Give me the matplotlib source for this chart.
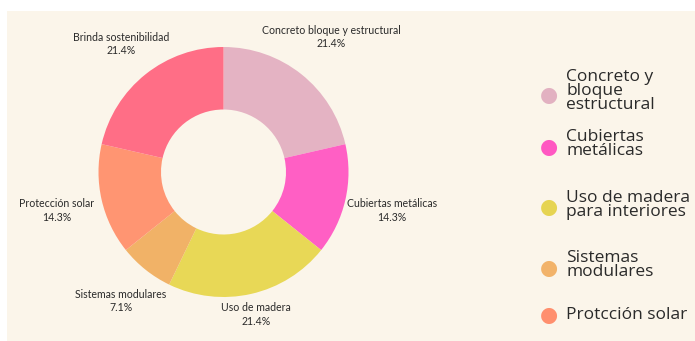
import numpy as np
import matplotlib.pyplot as plt
from matplotlib.patches import Rectangle

# datos del anillo
labels = ["Concreto bloque y estructural", "Cubiertas metálicas", "Uso de madera",
          "Sistemas modulares", "Protección solar", "Brinda sostenibilidad"]
values = [21.4, 14.3, 21.4, 7.1, 14.3, 21.4]
colors = ["#E4B3C3", "#FF5FC4", "#E8D856", "#F1B267", "#FF9572", "#FF6E86"]

# leyenda (sin "Brinda sostenibilidad")
legend_labels = ["Concreto y\nbloque\nestructural", "Cubiertas\nmetálicas",
                 "Uso de madera\npara interiores", "Sistemas\nmodulares", "Protcción solar"]
legend_colors = ["#E2B1C1", "#FF58C2", "#E6D452", "#F2B36A", "#FF8F6E"]

W, H = 695, 341
bg = "#FBF5EA"
txt = "#2A2A2A"

fig = plt.figure(figsize=(W / 100, H / 100), dpi=100)
fig.patch.set_facecolor("white")
fig.patches.append(Rectangle((7 / W, 0), 1 - 7 / W, (H - 11) / H, transform=fig.transFigure,
                             facecolor=bg, edgecolor="none", zorder=-5))

cx, cy, r = 223.5, H - 172, 125
ax = fig.add_axes([(cx - r) / W, (cy - r) / H, 2 * r / W, 2 * r / H])
ax.set_zorder(2)
ax.axis("off")

wedges, _ = ax.pie(values, colors=colors, startangle=90, counterclock=False, radius=1,
                   wedgeprops=dict(width=0.5, edgecolor="none"))
ax.set_xlim(-1, 1)
ax.set_ylim(-1, 1)

dist = [1.38, 1.38, 1.17, 1.32, 1.37, 1.31]
for w, lab, v, d in zip(wedges, labels, values, dist):
    a = np.deg2rad((w.theta1 + w.theta2) / 2)
    ax.text(d * np.cos(a), d * np.sin(a), f"{lab}\n{v}%", ha="center", va="center",
            fontsize=7.6, family="Lato", color=txt, linespacing=1.3)

# leyenda manual
leg_y = [95, 147, 207, 268, 315]
leg_dy = [4, 3, 2, 3, 0]
for lab, c, y, dy in zip(legend_labels, legend_colors, leg_y, leg_dy):
    fig.text(549 / W, (H - y) / H, "●", color=c, fontsize=15, ha="center", va="center",
             family="DejaVu Sans")
    fig.text(566 / W, (H - y + dy) / H, lab, color=txt, fontsize=12.5, family="Open Sans",
             ha="left", va="center", linespacing=0.8)

fig.savefig("out.png", dpi=100, facecolor=fig.get_facecolor())
